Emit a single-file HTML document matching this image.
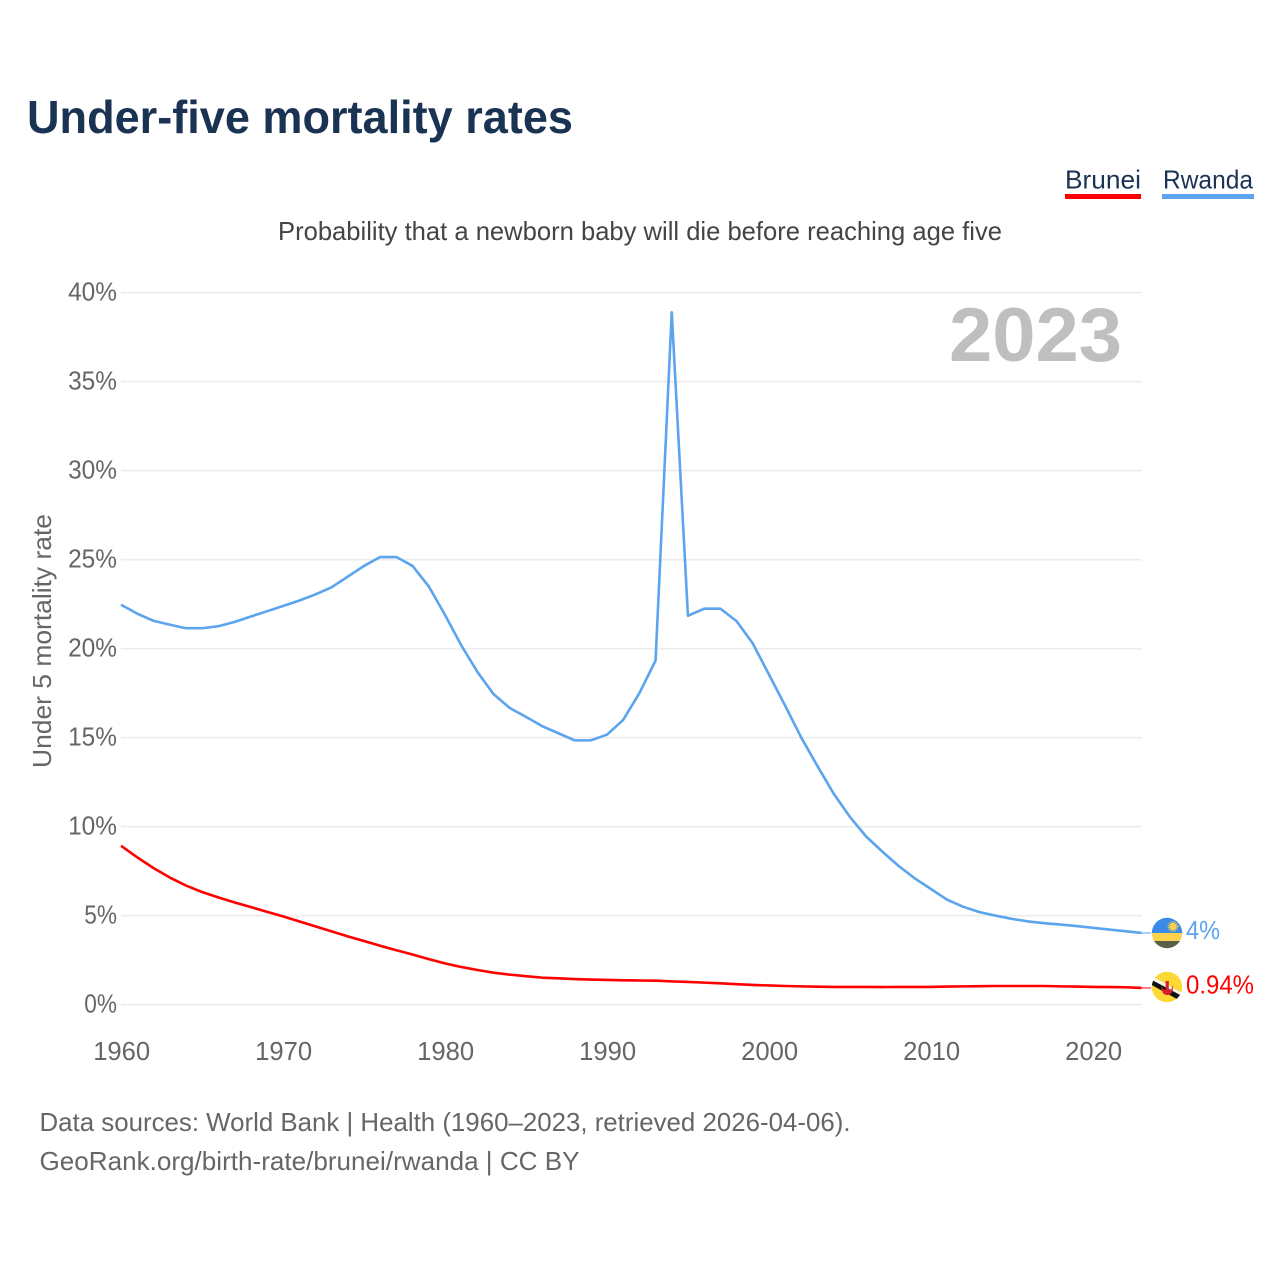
<!DOCTYPE html>
<html lang="en">
<head>
<meta charset="utf-8">
<title>Under-five mortality rates</title>
<style>
html,body{margin:0;padding:0;background:#fff;width:1280px;height:1280px;overflow:hidden}
svg{display:block}
text{font-family:"Liberation Sans",sans-serif}
</style>
</head>
<body>
<svg id="chart" xmlns="http://www.w3.org/2000/svg" width="1280" height="1280" viewBox="0 0 1280 1280">
  <rect width="1280" height="1280" fill="#fff"/>
  <text x="27" y="133" font-size="46" font-weight="700" fill="#1a3353" textLength="546" lengthAdjust="spacingAndGlyphs">Under-five mortality rates</text>

  <g>
    <g>
      <text x="1065" y="188.5" font-size="26" fill="#1a3353" textLength="76" lengthAdjust="spacingAndGlyphs">Brunei</text>
      <rect x="1065" y="194" width="76" height="5" fill="#ff0000"/>
    </g>
    <g>
      <text x="1163" y="188.5" font-size="26" fill="#1a3353" textLength="90" lengthAdjust="spacingAndGlyphs">Rwanda</text>
      <rect x="1162" y="194" width="92" height="5" fill="#5ba4ee"/>
    </g>
  </g>

  <text x="278" y="240" font-size="26" fill="#444" textLength="724" lengthAdjust="spacingAndGlyphs">Probability that a newborn baby will die before reaching age five</text>

  <g id="grid"></g>
  <g id="yticks"></g>
  <g id="xticks"></g>

  <text transform="translate(51,768) rotate(-90)" font-size="26" fill="#666" textLength="254" lengthAdjust="spacingAndGlyphs">Under 5 mortality rate</text>

  <text x="949" y="361" font-size="76" font-weight="700" fill="#bfbfbf" textLength="173" lengthAdjust="spacingAndGlyphs">2023</text>

  <g id="series"></g>

  <g>
    <clipPath id="clip-rw"><circle cx="1167" cy="933" r="15.2"/></clipPath>
    <g clip-path="url(#clip-rw)">
      <rect x="1151" y="917" width="32" height="16" fill="#3a8ae8"/>
      <rect x="1151" y="933" width="32" height="8" fill="#fad24b"/>
      <rect x="1151" y="941" width="32" height="9" fill="#566045"/>
      <circle cx="1173" cy="926.5" r="3.8" fill="#fad24b"/>
      <circle cx="1173" cy="926.5" r="4.8" fill="none" stroke="#fad24b" stroke-width="1.2" stroke-dasharray="1.2 1"/>
    </g>
    <text x="1186" y="939" font-size="26" fill="#5ba4ee" textLength="34" lengthAdjust="spacingAndGlyphs">4%</text>
  </g>

  <g>
    <clipPath id="clip-bn"><circle cx="1167" cy="987" r="15.2"/></clipPath>
    <g clip-path="url(#clip-bn)">
      <rect x="1151" y="971" width="32" height="32" fill="#fdd835"/>
      <polygon points="1150,975 1150,981 1184,1000 1184,994" fill="#f4f4f4"/>
      <polygon points="1150,979 1150,984 1184,1003 1184,997" fill="#111"/>
      <rect x="1165.6" y="981" width="3.2" height="12" fill="#d8202a"/>
      <path d="M1161.5 985 Q1161 995 1167.2 995 Q1173.5 995 1173 985 L1171.5 989 Q1167.2 992 1163 989 Z" fill="#d8202a"/>
    </g>
    <text x="1186" y="993.5" font-size="26" fill="#ff0000" textLength="68" lengthAdjust="spacingAndGlyphs">0.94%</text>
  </g>

  <text x="39.5" y="1131" font-size="26" fill="#666" textLength="811" lengthAdjust="spacingAndGlyphs">Data sources: World Bank | Health (1960–2023, retrieved 2026-04-06).</text>
  <text x="39.5" y="1170" font-size="26" fill="#666" textLength="540" lengthAdjust="spacingAndGlyphs">GeoRank.org/birth-rate/brunei/rwanda | CC BY</text>
</svg>
<script>
var years = [];
for (var yr = 1960; yr <= 2023; yr++) { years.push(yr); }
var rwanda = [22.47,21.97,21.57,21.35,21.15,21.15,21.26,21.5,21.8,22.1,22.4,22.7,23.05,23.45,24.05,24.65,25.15,25.15,24.65,23.5,21.9,20.2,18.7,17.45,16.67,16.17,15.65,15.25,14.85,14.85,15.17,16.0,17.5,19.33,38.9,21.85,22.25,22.25,21.55,20.3,18.55,16.8,15.0,13.4,11.85,10.55,9.45,8.6,7.8,7.1,6.5,5.9,5.5,5.2,5.0,4.82,4.68,4.58,4.5,4.42,4.32,4.22,4.13,4.03];
var brunei = [8.93,8.28,7.68,7.15,6.7,6.33,6.03,5.75,5.49,5.22,4.96,4.68,4.4,4.12,3.84,3.58,3.31,3.06,2.82,2.56,2.32,2.12,1.95,1.8,1.69,1.6,1.52,1.48,1.44,1.41,1.39,1.37,1.36,1.35,1.31,1.28,1.24,1.2,1.15,1.11,1.08,1.05,1.03,1.01,1.0,1.0,1.0,0.99,1.0,1.0,1.0,1.02,1.03,1.04,1.05,1.05,1.05,1.05,1.03,1.02,1.0,0.99,0.98,0.94];
var yTicks = [0,5,10,15,20,25,30,35,40];
var yTickLabels = ["0%","5%","10%","15%","20%","25%","30%","35%","40%"];
var xTicks = [1960,1970,1980,1990,2000,2010,2020];
var xTickLabels = ["1960","1970","1980","1990","2000","2010","2020"];

var NS = "http://www.w3.org/2000/svg";
function xScale(v) { return 121 + (v - 1960) * (1141.5 - 121) / 63; }
function yScale(v) { return 1004.7 - v * 17.8; }
function make(tag, attrs, parent) {
  var el = document.createElementNS(NS, tag);
  for (var k in attrs) { el.setAttribute(k, attrs[k]); }
  parent.appendChild(el);
  return el;
}

var grid = document.getElementById("grid");
var yG = document.getElementById("yticks");
var xG = document.getElementById("xticks");
var seriesG = document.getElementById("series");

yTicks.forEach(function (t, i) {
  var line = make("line", {x1: 121, x2: 1141.5, y1: yScale(t), y2: yScale(t), stroke: "#ececec", "stroke-width": 1.6}, grid);
  
  
  var label = yTickLabels[i];
  var lab = make("text", {x: 117, y: yScale(t) + 8, "text-anchor": "end", "font-size": 26, fill: "#666", textLength: 16.2 * (label.length - 1) + 16.5, lengthAdjust: "spacingAndGlyphs"}, yG);
  
  
  lab.textContent = label;
});

xTicks.forEach(function (t, i) {
  var lab = make("text", {x: xScale(t) + 0.7, y: 1060, "text-anchor": "middle", "font-size": 26, fill: "#666", textLength: 57, lengthAdjust: "spacingAndGlyphs"}, xG);
  
  
  lab.textContent = xTickLabels[i];
});

function drawSeries(values, color, name) {
  var pts = values.map(function (v, i) { return xScale(years[i]).toFixed(2) + "," + yScale(v).toFixed(2); });
  var line = make("polyline", {points: pts.join(" "), fill: "none", stroke: color, "stroke-width": 2.6, "stroke-linejoin": "round"}, seriesG);
  
  
  var lastY = yScale(values[values.length - 1]);
  var lead = make("line", {x1: xScale(years[years.length - 1]), x2: 1151, y1: lastY, y2: lastY, stroke: color, "stroke-width": 1}, seriesG);
  
  
}
drawSeries(rwanda, "#5ba4ee", "rwanda-line");
drawSeries(brunei, "#ff0000", "brunei-line");
</script>
</body>
</html>
